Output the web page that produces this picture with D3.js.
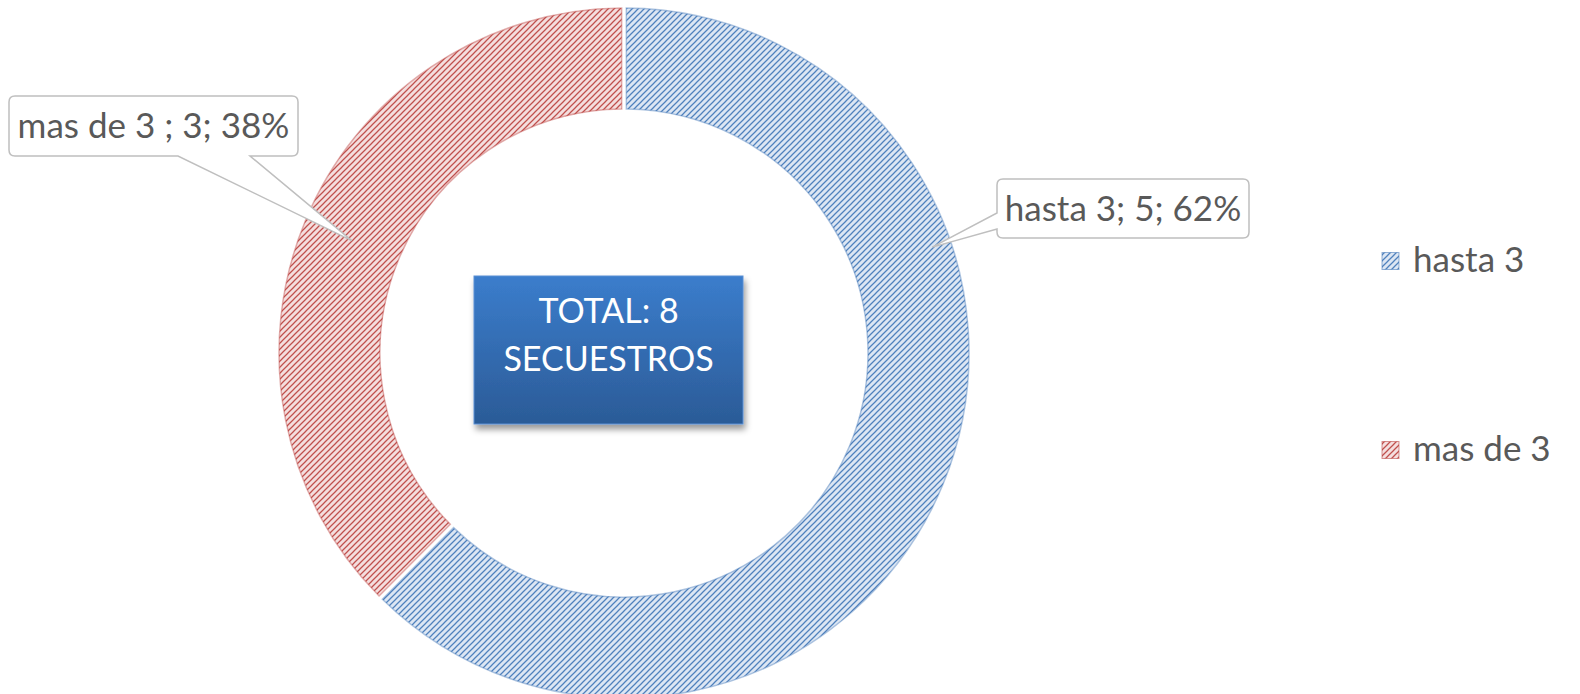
<!DOCTYPE html>
<html>
<head>
<meta charset="utf-8">
<script src="https://cdn.jsdelivr.net/npm/d3@7"></script>
<style>
    body { margin: 0; background: #fff; }
    svg { display: block; }
    text { font-family: Lato, "Open Sans", sans-serif; }
</style>
</head>
<body>
<svg id="chart" width="1580" height="694"></svg>
<script>
// Chart data
const categories = ['hasta 3', 'mas de 3'];
const values = [5, 3];
const labelNames = ['hasta 3', 'mas de 3 '];
const percentLabels = ['62%', '38%'];
const totalLines = ['TOTAL: 8', 'SECUESTROS'];

const stripeColors = ['#4f81bd', '#c0504d'];
const backColors = ['#dce6f3', '#f4dede'];

const width = 1580, height = 694;
const cx = 624, cy = 353;
const innerR = 244, outerR = 345;

const svg = d3.select('#chart');
const defs = svg.append('defs');

// striped fills (wide upward diagonal)
categories.forEach((c, i) => {
    const p = defs.append('pattern')
        .attr('id', 'stripe' + i)
        .attr('patternUnits', 'userSpaceOnUse')
        .attr('width', 6)
        .attr('height', 6);
    p.append('rect').attr('width', 6).attr('height', 6).attr('fill', backColors[i]);
    p.append('path')
        .attr('d', 'M-1,1 L1,-1 M0,6 L6,0 M5,7 L7,5')
        .attr('stroke', stripeColors[i])
        .attr('stroke-width', 1.25);
});

// gradient and shadow for the total box
const grad = defs.append('linearGradient')
    .attr('id', 'boxGrad')
    .attr('x1', 0).attr('y1', 0).attr('x2', 0).attr('y2', 1);
grad.append('stop').attr('offset', '0%').attr('stop-color', '#3b7dcc');
grad.append('stop').attr('offset', '100%').attr('stop-color', '#2b5b97');

const shadow = defs.append('filter')
    .attr('id', 'shadow')
    .attr('x', '-10%').attr('y', '-10%').attr('width', '130%').attr('height', '140%');
shadow.append('feDropShadow')
    .attr('dx', 2).attr('dy', 5)
    .attr('stdDeviation', 3)
    .attr('flood-color', '#000')
    .attr('flood-opacity', 0.4);

const pie = d3.pie().sort(null).value(d => d).padAngle(0.011);
const arcs = pie(values);

const arc = d3.arc().innerRadius(innerR).outerRadius(outerR);

const g = svg.append('g').attr('transform', `translate(${cx},${cy})`);

g.selectAll('path.slice')
    .data(arcs)
    .enter()
    .append('path')
    .attr('class', 'slice')
    .attr('d', arc)
    .attr('fill', (d, i) => `url(#stripe${i})`)
    .attr('stroke', (d, i) => stripeColors[i])
    .attr('stroke-opacity', 0.45)
    .attr('stroke-width', 1.5);

// center box
const box = { x: 474, y: 276, w: 269, h: 148 };
svg.append('rect')
    .attr('x', box.x).attr('y', box.y)
    .attr('width', box.w).attr('height', box.h)
    .attr('fill', 'url(#boxGrad)')
    .attr('stroke', '#5a8fd3')
    .attr('stroke-width', 1)
    .attr('filter', 'url(#shadow)');

svg.append('g')
    .selectAll('text')
    .data(totalLines)
    .enter()
    .append('text')
    .attr('x', box.x + box.w / 2)
    .attr('y', (d, i) => 323 + i * 48)
    .attr('text-anchor', 'middle')
    .attr('fill', '#fff')
    .attr('font-size', 34)
    .text(d => d);

// callout label shape
function calloutPath(b, side, a0, a1, tip) {
    const r = 6;
    const x0 = b.x, y0 = b.y, x1 = b.x + b.w, y1 = b.y + b.h;
    let p = `M${x0 + r},${y0} L${x1 - r},${y0} Q${x1},${y0} ${x1},${y0 + r} L${x1},${y1 - r} Q${x1},${y1} ${x1 - r},${y1}`;
    if (side === 'bottom') p += ` L${a1},${y1} L${tip[0]},${tip[1]} L${a0},${y1}`;
    p += ` L${x0 + r},${y1} Q${x0},${y1} ${x0},${y1 - r}`;
    if (side === 'left') p += ` L${x0},${a1} L${tip[0]},${tip[1]} L${x0},${a0}`;
    p += ` L${x0},${y0 + r} Q${x0},${y0} ${x0 + r},${y0} Z`;
    return p;
}

const polar = (a, r) => [cx + r * Math.sin(a), cy - r * Math.cos(a)];
const redTip = arc.centroid(arcs[1]);

const labels = [
    { box: { x: 997, y: 179, w: 252, h: 59 }, side: 'left', a0: 213, a1: 229, tip: polar(1.24, 326) },
    { box: { x: 9, y: 96, w: 289, h: 60 }, side: 'bottom', a0: 178, a1: 250, tip: [cx + redTip[0], cy + redTip[1]] }
];

const lg = svg.append('g');
labels.forEach((l, i) => {
    lg.append('path')
        .attr('d', calloutPath(l.box, l.side, l.a0, l.a1, l.tip))
        .attr('fill', '#fff')
        .attr('stroke', '#bfbfbf')
        .attr('stroke-width', 1.5);
    lg.append('text')
        .attr('x', l.box.x + l.box.w / 2)
        .attr('y', l.box.y + l.box.h / 2 + 12)
        .attr('text-anchor', 'middle')
        .attr('fill', '#595959')
        .attr('font-size', 35)
        .text(`${labelNames[i]}; ${values[i]}; ${percentLabels[i]}`);
});

// legend
const legendY = d3.scalePoint().domain(categories).range([261, 450]);
const legend = svg.append('g')
    .selectAll('g')
    .data(categories)
    .enter()
    .append('g')
    .attr('transform', d => `translate(1382,${legendY(d)})`);

legend.append('rect')
    .attr('x', 0).attr('y', -8.5)
    .attr('width', 17).attr('height', 17)
    .attr('fill', (d, i) => `url(#stripe${i})`)
    .attr('stroke', (d, i) => stripeColors[i])
    .attr('stroke-opacity', 0.6)
    .attr('stroke-width', 1);

legend.append('text')
    .attr('x', 31)
    .attr('y', 11)
    .attr('fill', '#595959')
    .attr('font-size', 35)
    .text(d => d);
</script>
</body>
</html>
